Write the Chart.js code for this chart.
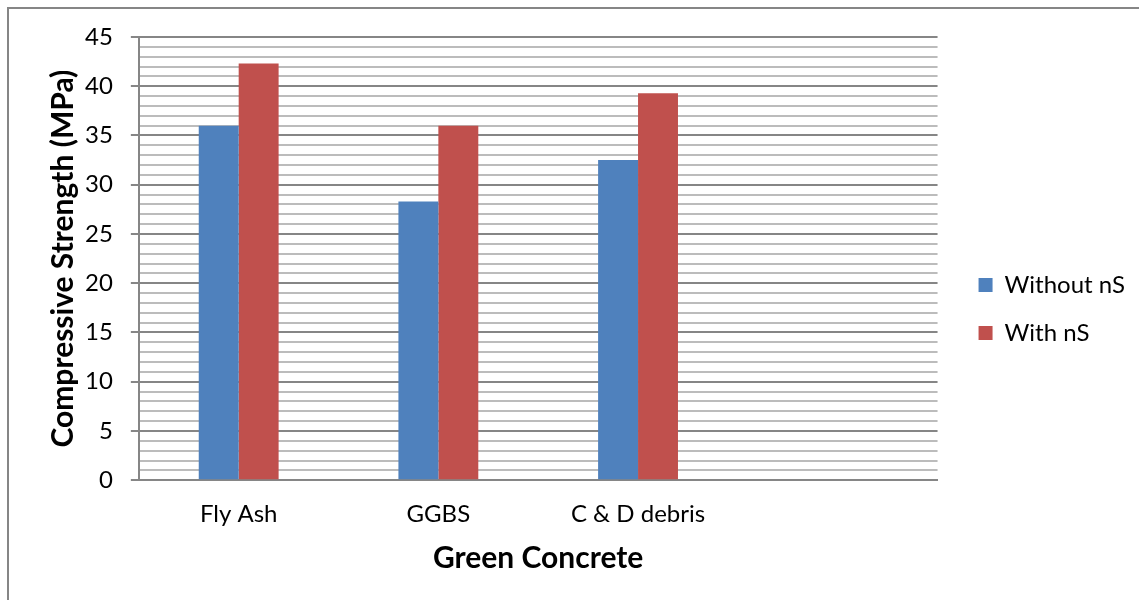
<!DOCTYPE html>
<html>
<head>
<meta charset="utf-8">
<script src="https://cdn.jsdelivr.net/npm/chart.js@4.4.1/dist/chart.umd.min.js"></script>
<style>
  html, body { margin: 0; padding: 0; background: #fff; }
  #wrap { position: relative; width: 1139px; height: 600px; }
</style>
</head>
<body>
<div id="wrap"><canvas id="c" width="1139" height="600"></canvas></div>
<script>
// Compressive strength of green concretes, with and without nano-silica
const categories = ['Fly Ash', 'GGBS', 'C & D debris', ''];
const withoutNS = [36.0, 28.3, 32.5, null];
const withNS = [42.3, 36.0, 39.3, null];
const seriesNames = ['Without nS', 'With nS'];
const yMin = 0, yMax = 45, yMajorStep = 5, yMinorStep = 1;

const FONT = 'Lato, "Open Sans", sans-serif';
const MAJOR = '#868686';
const MINOR = '#bcbcbc';

// outer frame of the chart object (left and top edges)
const framePlugin = {
  id: 'frame',
  beforeDraw(chart) {
    const ctx = chart.ctx;
    ctx.save();
    ctx.strokeStyle = MAJOR;
    ctx.lineWidth = 2;
    ctx.beginPath();
    ctx.moveTo(8, 600);
    ctx.lineTo(8, 8);
    ctx.lineTo(1139, 8);
    ctx.stroke();
    ctx.restore();
  }
};

new Chart(document.getElementById('c'), {
  type: 'bar',
  data: {
    labels: categories,
    datasets: [
      { label: seriesNames[0], data: withoutNS, backgroundColor: '#4f81bd', borderWidth: 0 },
      { label: seriesNames[1], data: withNS, backgroundColor: '#c0504d', borderWidth: 0 }
    ]
  },
  options: {
    responsive: false,
    animation: false,
    devicePixelRatio: 1,
    layout: { padding: { left: 41, top: 37, right: 4, bottom: 19 } },
    datasets: { bar: { categoryPercentage: 0.4, barPercentage: 1.0 } },
    plugins: {
      legend: {
        position: 'right',
        align: 'center',
        labels: {
          font: { family: FONT, size: 24 },
          color: '#000',
          boxWidth: 14,
          boxHeight: 14,
          padding: 24
        }
      },
      tooltip: { enabled: false }
    },
    scales: {
      x: {
        grid: { display: false, drawTicks: false },
        border: { display: true, color: MAJOR, width: 2 },
        ticks: { font: { family: FONT, size: 24 }, color: '#000', padding: 20, maxRotation: 0 },
        title: {
          display: true,
          text: 'Green Concrete',
          font: { family: FONT, size: 30, weight: 'bold' },
          color: '#000',
          padding: { top: -9, bottom: 5 }
        }
      },
      y: {
        min: yMin,
        max: yMax,
        grid: {
          color: ctx => (ctx.tick && ctx.tick.value % yMajorStep === 0) ? MAJOR : MINOR,
          tickColor: ctx => (ctx.tick && ctx.tick.value % yMajorStep === 0) ? MAJOR : 'rgba(0,0,0,0)',
          lineWidth: 2,
          tickLength: 8
        },
        border: { display: true, color: MAJOR, width: 2 },
        ticks: {
          stepSize: yMinorStep,
          autoSkip: false,
          font: { family: FONT, size: 24 },
          color: '#000',
          padding: 18,
          callback: v => (v % yMajorStep === 0 ? String(v) : '')
        },
        title: {
          display: true,
          text: 'Compressive Strength (MPa)',
          font: { family: FONT, size: 30, weight: 'bold' },
          color: '#000',
          padding: { top: 4, bottom: -14 }
        }
      },
      // empty right-hand gutter between the plot and the legend
      gutter: {
        type: 'linear',
        axis: 'y',
        position: 'right',
        display: true,
        grid: { display: false, drawTicks: false },
        border: { display: false },
        ticks: { display: false },
        afterFit(scale) { scale.width = 17; }
      }
    }
  },
  plugins: [framePlugin]
});
</script>
</body>
</html>
